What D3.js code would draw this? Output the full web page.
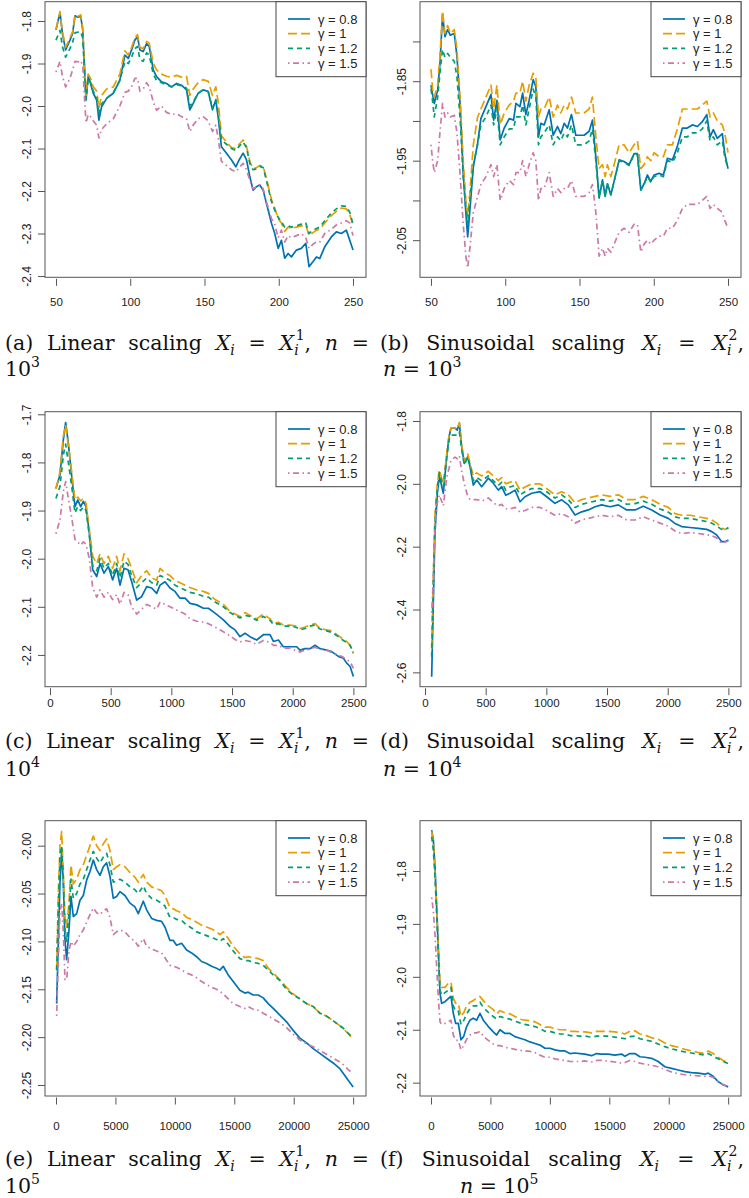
<!DOCTYPE html>
<html>
<head>
<meta charset="utf-8">
<script src="https://cdn.jsdelivr.net/npm/d3@7"></script>
<style>
  body { margin: 0; background: #fff; }
  svg { display: block; }
</style>
</head>
<body>
<div id="content"></div>
<script>
// ---------- data ----------
const gammas = ["γ = 0.8", "γ = 1", "γ = 1.2", "γ = 1.5"];

// (a) linear scaling, n = 10^3
const xA = [50,52.7,54.3,56.5,59.4,61.2,62.8,65,66.6,68,70.2,71.7,73.3,75.1,77.4,78.9,80.7,84.1,88.6,93,96.4,98.7,100.9,103.1,104.9,106.5,108.7,111,112.8,115.5,117.7,121.1,124.4,127.8,131.2,134.5,137.9,140.1,142.4,145.7,149.1,152.5,155.4,157.6,159.2,161.4,164.8,168.2,171.1,173.3,176,178.3,180.5,182.7,185,187.2,189.5,191.7,195.1,197.3,199.6,201.8,204,206.3,208.5,211.9,215.2,218.2,220.4,223.1,225.4,227.6,231,235.4,238.8,242.2,245.5,247.8,250];
const a08 = [-1.821,-1.780,-1.829,-1.868,-1.845,-1.829,-1.788,-1.791,-1.788,-1.821,-1.986,-1.931,-1.947,-1.970,-1.986,-2.033,-2.002,-1.982,-1.970,-1.939,-1.880,-1.888,-1.868,-1.845,-1.837,-1.868,-1.872,-1.853,-1.860,-1.915,-1.931,-1.943,-1.947,-1.955,-1.947,-1.951,-1.962,-2.009,-1.994,-1.970,-1.962,-1.966,-2.009,-1.986,-2.025,-2.096,-2.111,-2.127,-2.143,-2.127,-2.111,-2.127,-2.166,-2.198,-2.190,-2.186,-2.198,-2.229,-2.276,-2.300,-2.335,-2.316,-2.358,-2.347,-2.355,-2.339,-2.335,-2.323,-2.378,-2.366,-2.355,-2.359,-2.331,-2.308,-2.296,-2.300,-2.292,-2.316,-2.339];
const a10 = [-1.820,-1.778,-1.825,-1.862,-1.840,-1.825,-1.786,-1.789,-1.785,-1.815,-1.975,-1.925,-1.935,-1.955,-1.965,-2.005,-1.975,-1.960,-1.955,-1.925,-1.870,-1.880,-1.862,-1.840,-1.832,-1.862,-1.865,-1.848,-1.852,-1.900,-1.915,-1.925,-1.930,-1.932,-1.928,-1.932,-1.930,-1.975,-1.960,-1.945,-1.938,-1.942,-1.975,-1.955,-1.990,-2.070,-2.085,-2.098,-2.100,-2.090,-2.080,-2.095,-2.130,-2.148,-2.145,-2.140,-2.142,-2.170,-2.220,-2.240,-2.265,-2.275,-2.295,-2.285,-2.288,-2.285,-2.282,-2.280,-2.305,-2.298,-2.292,-2.290,-2.275,-2.258,-2.248,-2.240,-2.242,-2.255,-2.280];
const a12 = [-1.845,-1.822,-1.860,-1.885,-1.865,-1.850,-1.828,-1.826,-1.825,-1.840,-1.985,-1.935,-1.945,-1.965,-1.980,-2.020,-1.995,-1.982,-1.968,-1.940,-1.895,-1.900,-1.885,-1.865,-1.860,-1.890,-1.895,-1.875,-1.880,-1.925,-1.940,-1.945,-1.950,-1.955,-1.950,-1.952,-1.958,-2.000,-1.990,-1.970,-1.962,-1.966,-2.005,-1.985,-2.020,-2.080,-2.090,-2.100,-2.105,-2.095,-2.085,-2.098,-2.135,-2.150,-2.148,-2.142,-2.145,-2.175,-2.225,-2.245,-2.262,-2.272,-2.285,-2.282,-2.285,-2.282,-2.278,-2.275,-2.300,-2.292,-2.288,-2.285,-2.270,-2.252,-2.242,-2.235,-2.236,-2.250,-2.278];
const a15 = [-1.920,-1.895,-1.930,-1.955,-1.935,-1.915,-1.895,-1.896,-1.893,-1.905,-2.040,-2.020,-2.025,-2.035,-2.045,-2.075,-2.055,-2.042,-2.030,-2.000,-1.968,-1.965,-1.955,-1.935,-1.935,-1.965,-1.960,-1.945,-1.955,-1.990,-2.010,-2.000,-2.015,-2.020,-2.018,-2.025,-2.030,-2.060,-2.045,-2.030,-2.025,-2.035,-2.060,-2.045,-2.075,-2.130,-2.140,-2.150,-2.155,-2.145,-2.135,-2.150,-2.175,-2.195,-2.190,-2.185,-2.195,-2.225,-2.265,-2.278,-2.310,-2.292,-2.320,-2.305,-2.310,-2.305,-2.300,-2.310,-2.335,-2.325,-2.320,-2.320,-2.300,-2.290,-2.280,-2.275,-2.270,-2.275,-2.305];

// (b) sinusoidal scaling, n = 10^3
const xB = [50,51.1,52.2,54.5,56,57.8,59.4,61.2,63,65.7,67.5,69.7,71.7,73.5,74.7,76.2,78.5,81.4,83.6,87,90.4,92.2,94.4,96.6,99.3,102.7,105.6,107.2,109.9,111.7,113.9,116.1,118.8,120.6,122.4,124,126.2,129.6,132.3,135.2,137.4,139.7,141.9,144.6,147.5,153.1,156.5,158.7,161,163.2,165.5,167.3,168.8,171.1,173.3,176.7,180,183.4,186.8,189,191.3,193.5,195.7,198,200.2,203.6,206.5,209.2,212.6,215.9,219.3,222.6,226,229.4,232.7,235.7,237.9,240.1,242.8,246.2,247.8,250];
const b08 = [-1.855,-1.867,-1.878,-1.861,-1.829,-1.766,-1.794,-1.785,-1.792,-1.790,-1.819,-1.882,-1.966,-2.016,-2.046,-2.012,-1.958,-1.928,-1.897,-1.882,-1.867,-1.899,-1.874,-1.924,-1.909,-1.897,-1.899,-1.878,-1.882,-1.865,-1.892,-1.874,-1.848,-1.857,-1.920,-1.903,-1.905,-1.886,-1.918,-1.907,-1.916,-1.903,-1.909,-1.892,-1.918,-1.918,-1.913,-1.899,-1.945,-1.997,-1.974,-1.995,-1.979,-1.993,-1.976,-1.949,-1.951,-1.955,-1.941,-1.941,-1.987,-1.979,-1.968,-1.976,-1.968,-1.966,-1.968,-1.947,-1.949,-1.932,-1.909,-1.909,-1.905,-1.907,-1.901,-1.892,-1.920,-1.911,-1.922,-1.916,-1.941,-1.960];
const b10 = [-1.835,-1.860,-1.870,-1.855,-1.820,-1.762,-1.790,-1.780,-1.790,-1.785,-1.810,-1.875,-1.950,-2.000,-2.020,-1.990,-1.930,-1.895,-1.885,-1.870,-1.855,-1.885,-1.855,-1.905,-1.890,-1.880,-1.875,-1.865,-1.865,-1.850,-1.875,-1.855,-1.840,-1.845,-1.895,-1.885,-1.885,-1.870,-1.895,-1.880,-1.890,-1.880,-1.885,-1.870,-1.890,-1.890,-1.885,-1.870,-1.920,-1.960,-1.955,-1.970,-1.955,-1.970,-1.955,-1.930,-1.930,-1.940,-1.930,-1.925,-1.960,-1.955,-1.945,-1.950,-1.940,-1.945,-1.945,-1.930,-1.930,-1.910,-1.885,-1.885,-1.885,-1.885,-1.880,-1.875,-1.895,-1.890,-1.900,-1.905,-1.915,-1.940];
const b12 = [-1.860,-1.875,-1.895,-1.870,-1.840,-1.810,-1.820,-1.815,-1.820,-1.825,-1.845,-1.900,-1.970,-2.010,-2.030,-2.000,-1.955,-1.930,-1.905,-1.895,-1.880,-1.905,-1.885,-1.930,-1.920,-1.910,-1.910,-1.895,-1.895,-1.880,-1.905,-1.885,-1.860,-1.870,-1.930,-1.920,-1.915,-1.905,-1.930,-1.920,-1.925,-1.915,-1.920,-1.905,-1.930,-1.930,-1.925,-1.910,-1.950,-1.997,-1.974,-1.995,-1.979,-1.993,-1.976,-1.950,-1.952,-1.956,-1.942,-1.942,-1.987,-1.980,-1.970,-1.977,-1.970,-1.968,-1.970,-1.950,-1.952,-1.940,-1.920,-1.920,-1.915,-1.915,-1.910,-1.900,-1.925,-1.920,-1.930,-1.925,-1.945,-1.960];
const b15 = [-1.930,-1.950,-1.965,-1.950,-1.915,-1.878,-1.895,-1.890,-1.895,-1.893,-1.915,-1.970,-2.030,-2.070,-2.085,-2.060,-2.015,-1.995,-1.980,-1.970,-1.955,-1.970,-1.955,-2.000,-1.985,-1.975,-1.980,-1.965,-1.965,-1.950,-1.970,-1.955,-1.940,-1.950,-2.000,-1.985,-1.985,-1.965,-1.995,-1.985,-1.990,-1.985,-1.985,-1.975,-1.995,-1.995,-1.990,-1.980,-2.015,-2.070,-2.060,-2.070,-2.060,-2.065,-2.055,-2.040,-2.035,-2.040,-2.030,-2.030,-2.065,-2.055,-2.050,-2.055,-2.050,-2.045,-2.045,-2.035,-2.035,-2.025,-2.010,-2.005,-2.005,-2.005,-2.000,-1.995,-2.010,-2.005,-2.010,-2.015,-2.025,-2.035];

// (c) linear scaling, n = 10^4
const xC = [49,82,110,129,151,179,206,228,253,275,297,324,352,385,412,445,481,516,549,577,610,643,673,714,755,797,838,879,907,948,989,1030,1071,1113,1154,1209,1264,1305,1360,1429,1484,1525,1566,1607,1648,1703,1758,1813,1841,1882,1923,1978,2033,2060,2102,2143,2184,2225,2280,2321,2376,2418,2445,2473,2500];
const c08 = [-1.854,-1.826,-1.753,-1.717,-1.760,-1.829,-1.892,-1.878,-1.892,-1.881,-1.892,-1.947,-2.023,-2.037,-2.010,-2.030,-2.016,-2.044,-2.020,-2.055,-2.020,-2.023,-2.048,-2.086,-2.079,-2.058,-2.061,-2.072,-2.055,-2.048,-2.061,-2.068,-2.082,-2.082,-2.093,-2.096,-2.103,-2.103,-2.113,-2.127,-2.141,-2.148,-2.162,-2.155,-2.162,-2.169,-2.158,-2.158,-2.172,-2.169,-2.183,-2.183,-2.183,-2.190,-2.187,-2.187,-2.180,-2.187,-2.190,-2.193,-2.203,-2.207,-2.217,-2.224,-2.245];
const c10 = [-1.855,-1.820,-1.745,-1.722,-1.765,-1.820,-1.878,-1.872,-1.880,-1.875,-1.885,-1.940,-1.995,-2.010,-1.990,-2.010,-1.995,-2.020,-1.995,-2.025,-1.990,-2.000,-2.020,-2.050,-2.035,-2.025,-2.040,-2.045,-2.020,-2.030,-2.035,-2.045,-2.050,-2.055,-2.060,-2.065,-2.068,-2.072,-2.085,-2.095,-2.110,-2.115,-2.120,-2.112,-2.118,-2.125,-2.115,-2.125,-2.135,-2.132,-2.138,-2.138,-2.140,-2.145,-2.142,-2.138,-2.135,-2.145,-2.148,-2.150,-2.160,-2.168,-2.172,-2.180,-2.197];
const c12 = [-1.875,-1.850,-1.785,-1.762,-1.800,-1.850,-1.905,-1.892,-1.900,-1.892,-1.900,-1.952,-2.015,-2.025,-2.000,-2.020,-2.010,-2.035,-2.010,-2.040,-2.005,-2.012,-2.035,-2.060,-2.050,-2.040,-2.050,-2.055,-2.035,-2.040,-2.045,-2.055,-2.060,-2.065,-2.070,-2.073,-2.078,-2.080,-2.090,-2.100,-2.112,-2.118,-2.123,-2.118,-2.120,-2.128,-2.120,-2.128,-2.137,-2.135,-2.140,-2.140,-2.143,-2.148,-2.145,-2.140,-2.138,-2.146,-2.150,-2.153,-2.162,-2.170,-2.174,-2.180,-2.195];
const c15 = [-1.948,-1.920,-1.860,-1.840,-1.875,-1.915,-1.960,-1.965,-1.972,-1.965,-1.970,-2.000,-2.060,-2.080,-2.065,-2.080,-2.070,-2.085,-2.075,-2.095,-2.070,-2.075,-2.100,-2.115,-2.105,-2.095,-2.100,-2.105,-2.090,-2.095,-2.100,-2.105,-2.110,-2.115,-2.125,-2.130,-2.132,-2.135,-2.142,-2.152,-2.160,-2.168,-2.173,-2.170,-2.172,-2.178,-2.170,-2.174,-2.180,-2.180,-2.186,-2.186,-2.192,-2.194,-2.190,-2.188,-2.184,-2.188,-2.190,-2.195,-2.200,-2.205,-2.210,-2.214,-2.228];

// (d) sinusoidal scaling, n = 10^4
const xD = [55,69,82,102,118,132,151,179,198,214,247,266,283,302,324,352,371,398,426,467,522,563,604,632,665,700,742,783,824,879,948,1003,1071,1126,1181,1236,1291,1346,1401,1456,1525,1593,1662,1731,1799,1868,1937,2005,2060,2115,2184,2253,2321,2363,2404,2445,2473,2500];
const d08 = [-2.614,-2.370,-2.158,-2.030,-1.977,-1.998,-2.030,-1.914,-1.850,-1.823,-1.823,-1.829,-1.807,-1.882,-1.935,-1.914,-1.945,-2.004,-1.988,-2.009,-1.982,-1.998,-2.020,-2.009,-2.036,-2.030,-2.020,-2.057,-2.041,-2.030,-2.025,-2.041,-2.062,-2.051,-2.067,-2.099,-2.089,-2.083,-2.073,-2.067,-2.073,-2.067,-2.083,-2.083,-2.071,-2.083,-2.099,-2.110,-2.126,-2.136,-2.139,-2.142,-2.145,-2.152,-2.163,-2.184,-2.184,-2.179];
const d10 = [-2.525,-2.300,-2.100,-2.000,-1.955,-1.975,-2.000,-1.905,-1.845,-1.822,-1.822,-1.826,-1.805,-1.875,-1.930,-1.905,-1.935,-1.975,-1.965,-1.975,-1.960,-1.975,-1.990,-1.980,-2.000,-1.995,-1.990,-2.020,-2.010,-2.000,-2.000,-2.015,-2.035,-2.025,-2.035,-2.060,-2.050,-2.045,-2.040,-2.035,-2.040,-2.035,-2.050,-2.050,-2.040,-2.050,-2.065,-2.075,-2.095,-2.100,-2.100,-2.105,-2.110,-2.115,-2.125,-2.140,-2.145,-2.140];
const d12 = [-2.550,-2.300,-2.120,-2.010,-1.965,-1.985,-2.010,-1.915,-1.860,-1.845,-1.845,-1.845,-1.835,-1.890,-1.940,-1.915,-1.940,-1.990,-1.980,-1.990,-1.975,-1.990,-2.005,-1.995,-2.020,-2.010,-2.005,-2.035,-2.025,-2.015,-2.015,-2.025,-2.045,-2.035,-2.050,-2.075,-2.065,-2.060,-2.055,-2.050,-2.055,-2.050,-2.065,-2.063,-2.055,-2.065,-2.080,-2.090,-2.105,-2.110,-2.110,-2.115,-2.120,-2.125,-2.135,-2.145,-2.145,-2.140];
const d15 = [-2.410,-2.300,-2.130,-2.060,-2.035,-2.050,-2.070,-1.980,-1.950,-1.925,-1.915,-1.920,-1.910,-1.960,-2.000,-2.040,-2.050,-2.050,-2.050,-2.055,-2.045,-2.060,-2.070,-2.065,-2.080,-2.080,-2.075,-2.090,-2.085,-2.075,-2.075,-2.085,-2.100,-2.095,-2.105,-2.125,-2.115,-2.110,-2.105,-2.100,-2.105,-2.100,-2.115,-2.115,-2.105,-2.115,-2.125,-2.135,-2.150,-2.158,-2.155,-2.158,-2.162,-2.165,-2.172,-2.190,-2.185,-2.182];

// (e) linear scaling, n = 10^5
const xE = [56,196,336,476,617,757,897,1093,1261,1457,1738,2018,2298,2578,2859,3139,3419,3700,3980,4260,4540,4821,5101,5381,5801,6222,6642,6923,7343,7623,8044,8464,8884,9165,9585,9865,10146,10566,10987,11407,11827,12248,12668,13088,13509,13789,14070,14490,14910,15471,15891,16172,16592,17012,17433,17853,18274,18834,19395,19955,20516,21076,21637,22197,22758,23318,23879,24299,24580,25000];
const e08 = [-2.165,-2.099,-2.039,-2.005,-2.039,-2.099,-2.119,-2.088,-2.053,-2.074,-2.071,-2.057,-2.052,-2.036,-2.027,-2.015,-2.025,-2.031,-2.022,-2.018,-2.032,-2.055,-2.053,-2.048,-2.052,-2.060,-2.064,-2.071,-2.058,-2.067,-2.076,-2.078,-2.079,-2.085,-2.099,-2.099,-2.104,-2.102,-2.109,-2.112,-2.116,-2.121,-2.123,-2.126,-2.128,-2.130,-2.126,-2.135,-2.142,-2.151,-2.154,-2.153,-2.156,-2.156,-2.159,-2.165,-2.170,-2.177,-2.184,-2.193,-2.201,-2.206,-2.212,-2.217,-2.222,-2.227,-2.233,-2.240,-2.245,-2.252];
const e10 = [-2.130,-2.050,-2.000,-1.985,-2.030,-2.075,-2.085,-2.060,-2.020,-2.040,-2.035,-2.025,-2.020,-2.010,-2.000,-1.990,-2.000,-2.005,-1.998,-1.993,-2.005,-2.025,-2.022,-2.020,-2.022,-2.028,-2.033,-2.038,-2.030,-2.038,-2.043,-2.045,-2.047,-2.052,-2.065,-2.066,-2.068,-2.070,-2.075,-2.077,-2.080,-2.083,-2.085,-2.087,-2.090,-2.093,-2.090,-2.097,-2.105,-2.113,-2.117,-2.116,-2.117,-2.118,-2.120,-2.128,-2.133,-2.140,-2.148,-2.155,-2.160,-2.165,-2.168,-2.175,-2.178,-2.183,-2.188,-2.193,-2.196,-2.202];
const e12 = [-2.130,-2.065,-2.010,-2.000,-2.035,-2.090,-2.100,-2.070,-2.035,-2.055,-2.050,-2.040,-2.035,-2.025,-2.015,-2.006,-2.013,-2.018,-2.012,-2.008,-2.020,-2.038,-2.037,-2.035,-2.038,-2.043,-2.046,-2.050,-2.042,-2.050,-2.055,-2.057,-2.060,-2.063,-2.075,-2.075,-2.077,-2.078,-2.083,-2.086,-2.090,-2.092,-2.094,-2.096,-2.098,-2.100,-2.097,-2.103,-2.110,-2.118,-2.120,-2.120,-2.122,-2.123,-2.125,-2.130,-2.135,-2.141,-2.150,-2.156,-2.160,-2.165,-2.168,-2.175,-2.178,-2.183,-2.188,-2.192,-2.196,-2.201];
const e15 = [-2.178,-2.120,-2.070,-2.060,-2.090,-2.140,-2.140,-2.110,-2.100,-2.105,-2.100,-2.093,-2.088,-2.080,-2.072,-2.065,-2.070,-2.072,-2.068,-2.066,-2.075,-2.093,-2.090,-2.088,-2.090,-2.096,-2.100,-2.105,-2.097,-2.105,-2.108,-2.110,-2.112,-2.117,-2.125,-2.126,-2.127,-2.130,-2.133,-2.135,-2.138,-2.142,-2.145,-2.148,-2.150,-2.152,-2.155,-2.160,-2.165,-2.168,-2.170,-2.168,-2.171,-2.172,-2.175,-2.178,-2.181,-2.185,-2.190,-2.197,-2.203,-2.207,-2.210,-2.214,-2.218,-2.222,-2.226,-2.230,-2.234,-2.238];

// (f) sinusoidal scaling, n = 10^5
const xF = [56,196,336,476,617,757,897,1177,1457,1681,1878,2074,2298,2522,2746,2998,3279,3559,3839,4120,4400,4821,5241,5521,5801,6222,6642,7063,7483,7904,8324,8744,9165,9585,10006,10426,10846,11267,11687,12108,12528,12948,13509,13929,14350,14910,15471,16031,16312,16732,17153,17573,17993,18554,19114,19675,20235,20796,21357,21917,22478,23038,23318,23739,24159,24580,25000];
const f08 = [-1.723,-1.741,-1.792,-1.867,-1.949,-2.031,-2.050,-2.047,-2.041,-2.037,-2.069,-2.088,-2.088,-2.119,-2.113,-2.094,-2.082,-2.078,-2.082,-2.069,-2.082,-2.094,-2.104,-2.110,-2.100,-2.107,-2.107,-2.113,-2.116,-2.119,-2.123,-2.126,-2.129,-2.135,-2.135,-2.138,-2.140,-2.140,-2.145,-2.144,-2.145,-2.146,-2.149,-2.145,-2.146,-2.146,-2.148,-2.146,-2.150,-2.145,-2.145,-2.151,-2.152,-2.154,-2.160,-2.170,-2.173,-2.176,-2.179,-2.181,-2.182,-2.184,-2.182,-2.188,-2.198,-2.204,-2.208];
const f10 = [-1.725,-1.745,-1.800,-1.870,-1.945,-2.010,-2.020,-2.020,-2.012,-2.010,-2.040,-2.050,-2.050,-2.075,-2.068,-2.055,-2.048,-2.045,-2.040,-2.037,-2.045,-2.055,-2.062,-2.070,-2.064,-2.068,-2.070,-2.075,-2.080,-2.082,-2.083,-2.085,-2.090,-2.095,-2.095,-2.098,-2.100,-2.100,-2.103,-2.103,-2.104,-2.104,-2.106,-2.103,-2.103,-2.103,-2.104,-2.106,-2.108,-2.103,-2.102,-2.108,-2.110,-2.115,-2.118,-2.125,-2.130,-2.133,-2.137,-2.140,-2.143,-2.145,-2.140,-2.145,-2.152,-2.158,-2.163];
const f12 = [-1.735,-1.760,-1.810,-1.880,-1.955,-2.025,-2.035,-2.030,-2.025,-2.020,-2.055,-2.065,-2.065,-2.090,-2.083,-2.070,-2.060,-2.055,-2.055,-2.048,-2.058,-2.067,-2.075,-2.080,-2.075,-2.078,-2.080,-2.084,-2.087,-2.090,-2.092,-2.094,-2.098,-2.103,-2.103,-2.106,-2.108,-2.108,-2.111,-2.111,-2.112,-2.112,-2.114,-2.112,-2.112,-2.112,-2.114,-2.116,-2.117,-2.113,-2.112,-2.117,-2.119,-2.122,-2.127,-2.132,-2.136,-2.139,-2.142,-2.144,-2.146,-2.148,-2.145,-2.150,-2.155,-2.160,-2.164];
const f15 = [-1.850,-1.875,-1.920,-1.980,-2.040,-2.085,-2.090,-2.088,-2.085,-2.082,-2.110,-2.120,-2.120,-2.138,-2.130,-2.118,-2.110,-2.106,-2.106,-2.103,-2.112,-2.120,-2.127,-2.130,-2.130,-2.133,-2.135,-2.137,-2.139,-2.140,-2.141,-2.143,-2.148,-2.152,-2.152,-2.155,-2.157,-2.158,-2.160,-2.160,-2.160,-2.159,-2.161,-2.158,-2.158,-2.159,-2.161,-2.163,-2.162,-2.158,-2.160,-2.163,-2.165,-2.167,-2.170,-2.175,-2.180,-2.183,-2.185,-2.186,-2.187,-2.188,-2.187,-2.190,-2.198,-2.204,-2.207];

// tick values
const xTicksSmall = [50,100,150,200,250];
const xTicksMid   = [0,500,1000,1500,2000,2500];
const xTicksBig   = [0,5000,10000,15000,20000,25000];

// ---------- styles ----------
const colors = ["#0072B2", "#E69F00", "#009E73", "#CC79A7"];
const dashes = [null, "9,4", "5,4", "1.5,3.5,6,3.5"];
const sansFont = "'Liberation Sans', Arial, sans-serif";
const serifFont = "'DejaVu Serif', 'Liberation Serif', serif";
const capSize = 20.5, capSmall = 14;

const W = 749, H = 1198;
const svg = d3.select("#content").append("svg")
    .attr("width", W).attr("height", H);

// rows: box top/bottom, x label padding, caption baselines
const rows = [
  { top: 1.7,   bottom: 277.3, pad: 12.5, cap1: 350,  cap2: 376 },
  { top: 411.7, bottom: 686.7, pad: 4,    cap1: 748,  cap2: 776 },
  { top: 820.7, bottom: 1096,  pad: 17.5, cap1: 1166, cap2: 1193 }
];

const panels = [
  { row: 0, x0: 0,   xs: xA, ys: [a08,a10,a12,a15], xDom: [42.6, 258.75], yDom: [-2.403, -1.7546],
    xTicks: xTicksSmall, yTicks: [-1.8,-1.9,-2.0,-2.1,-2.2,-2.3,-2.4], yFmt: d3.format(".1f"), yShow: null,
    label: "a", kind: "lin", n: "3" },
  { row: 0, x0: 375, xs: xB, ys: [b08,b10,b12,b15], xDom: [42.6, 258.75], yDom: [-2.0967, -1.75],
    xTicks: xTicksSmall, yTicks: [-1.80,-1.85,-1.90,-1.95,-2.00,-2.05], yFmt: d3.format(".2f"), yShow: [-1.85,-1.95,-2.05],
    label: "b", kind: "sin", n: "3" },
  { row: 1, x0: 0,   xs: xC, ys: [c08,c10,c12,c15], xDom: [-41.2, 2604], yDom: [-2.266, -1.6946],
    xTicks: xTicksMid, yTicks: [-1.7,-1.8,-1.9,-2.0,-2.1,-2.2], yFmt: d3.format(".1f"), yShow: null,
    label: "c", kind: "lin", n: "4" },
  { row: 1, x0: 375, xs: xD, ys: [d08,d10,d12,d15], xDom: [-41.2, 2604], yDom: [-2.6456, -1.7704],
    xTicks: xTicksMid, yTicks: [-1.8,-2.0,-2.2,-2.4,-2.6], yFmt: d3.format(".1f"), yShow: null,
    label: "d", kind: "sin", n: "4" },
  { row: 2, x0: 0,   xs: xE, ys: [e08,e10,e12,e15], xDom: [-925, 26080], yDom: [-2.2615, -1.9739],
    xTicks: xTicksBig, yTicks: [-2.00,-2.05,-2.10,-2.15,-2.20,-2.25], yFmt: d3.format(".2f"), yShow: null,
    label: "e", kind: "lin", n: "5" },
  { row: 2, x0: 375, xs: xF, ys: [f08,f10,f12,f15], xDom: [-925, 26080], yDom: [-2.2252, -1.705],
    xTicks: xTicksBig, yTicks: [-1.8,-1.9,-2.0,-2.1,-2.2], yFmt: d3.format(".1f"), yShow: null,
    label: "f", kind: "sin", n: "5" }
];

const minus = s => s.replace("−", "-");

panels.forEach(p => {
  const r = rows[p.row];
  const left = p.x0 + 45, right = p.x0 + 366;
  const g = svg.append("g");

  const x = d3.scaleLinear().domain(p.xDom).range([left, right]);
  const y = d3.scaleLinear().domain(p.yDom).range([r.bottom, r.top]);

  // lines
  const line = d3.line().x(d => x(d[0])).y(d => y(d[1]));
  p.ys.forEach((vals, i) => {
    g.append("path")
      .datum(p.xs.map((v, k) => [v, vals[k]]))
      .attr("d", line)
      .attr("fill", "none")
      .attr("stroke", colors[i])
      .attr("stroke-width", 1.7)
      .attr("stroke-dasharray", dashes[i])
      .attr("stroke-linejoin", "round");
  });

  // box
  g.append("rect")
    .attr("x", left).attr("y", r.top)
    .attr("width", right - left).attr("height", r.bottom - r.top)
    .attr("fill", "none").attr("stroke", "#555").attr("stroke-width", 1);

  // x axis
  const xAxis = g.append("g")
    .attr("transform", `translate(0,${r.bottom + 1.5})`)
    .call(d3.axisBottom(x).tickValues(p.xTicks).tickSize(7).tickSizeOuter(0)
          .tickPadding(r.pad).tickFormat(d3.format("d")));
  xAxis.select(".domain").remove();
  xAxis.selectAll("line").attr("stroke", "#555");
  xAxis.selectAll("text").attr("font-family", sansFont).attr("font-size", 11.5).attr("fill", "#222");

  // y axis (labels rotated, R style)
  const yAxis = g.append("g")
    .attr("transform", `translate(${left},0)`)
    .call(d3.axisLeft(y).tickValues(p.yTicks).tickSize(7).tickSizeOuter(0)
          .tickFormat(d => (p.yShow && !p.yShow.some(v => Math.abs(v - d) < 1e-9)) ? "" : minus(p.yFmt(d))));
  yAxis.select(".domain").remove();
  yAxis.selectAll("line").attr("stroke", "#555");
  yAxis.selectAll("text")
    .attr("x", null).attr("dy", null)
    .attr("text-anchor", "middle")
    .attr("transform", "translate(-14,0) rotate(-90)")
    .attr("font-family", sansFont).attr("font-size", 12).attr("fill", "#222");

  // legend (top right)
  const lg = g.append("g");
  lg.append("rect")
    .attr("x", p.x0 + 276).attr("y", r.top)
    .attr("width", right - (p.x0 + 276)).attr("height", 75)
    .attr("fill", "#fff").attr("stroke", "#444").attr("stroke-width", 1);
  gammas.forEach((lab, i) => {
    const ly = r.top + 17.3 + i * 14.7;
    lg.append("line")
      .attr("x1", p.x0 + 288).attr("x2", p.x0 + 310)
      .attr("y1", ly).attr("y2", ly)
      .attr("stroke", colors[i]).attr("stroke-width", 1.7)
      .attr("stroke-dasharray", dashes[i]);
    lg.append("text")
      .attr("x", p.x0 + 318).attr("y", ly + 4.5)
      .attr("font-family", sansFont).attr("font-size", 13).attr("fill", "#222")
      .text(lab);
  });

  // caption, justified like LaTeX: stretch the word spaces
  const cx = p.x0 ? p.x0 + 5 : 5;
  const head = p.kind === "lin" ? `(${p.label}) Linear scaling ` : `(${p.label}) Sinusoidal scaling `;
  const sup = p.kind === "lin" ? "1" : "2";
  const t1 = g.append("text")
    .attr("x", cx).attr("y", r.cap1)
    .attr("font-family", serifFont).attr("font-size", capSize).attr("fill", "#111");
  t1.append("tspan").text(head);
  t1.append("tspan").attr("font-style", "italic").text("X");
  t1.append("tspan").attr("font-style", "italic").attr("font-size", capSmall).attr("dy", 4.5).text("i");
  t1.append("tspan").attr("dy", -4.5).text(" = ");
  t1.append("tspan").attr("font-style", "italic").text("X");
  t1.append("tspan").attr("font-style", "italic").attr("font-size", capSmall).attr("dy", 4.5).text("i");
  t1.append("tspan").attr("font-size", capSmall).attr("dx", -3).attr("dy", -14.5).text(sup);
  if (p.kind === "lin") {
    t1.append("tspan").attr("dy", 10).text(", ");
    t1.append("tspan").attr("font-style", "italic").text("n");
    t1.append("tspan").text(" =");
  } else {
    t1.append("tspan").attr("dy", 10).text(",");
  }
  const natural = t1.node().getComputedTextLength();
  const spaces = (t1.text().match(/ /g) || []).length;
  const extra = 367 - natural;
  if (extra >= 0) t1.attr("word-spacing", extra / spaces);
  else t1.attr("textLength", 367).attr("lengthAdjust", "spacingAndGlyphs");

  const t2 = g.append("text")
    .attr("y", r.cap2)
    .attr("font-family", serifFont).attr("font-size", capSize).attr("fill", "#111");
  if (p.kind === "lin") {
    t2.attr("x", cx);
    t2.append("tspan").text("10");
    t2.append("tspan").attr("font-size", capSmall).attr("dy", -9).text(p.n);
  } else {
    t2.attr("x", p.row === 2 ? p.x0 + 85 : p.x0 + 8);
    t2.append("tspan").attr("font-style", "italic").text("n");
    t2.append("tspan").text(" = 10");
    t2.append("tspan").attr("font-size", capSmall).attr("dy", -9).text(p.n);
  }
});
</script>
</body>
</html>
